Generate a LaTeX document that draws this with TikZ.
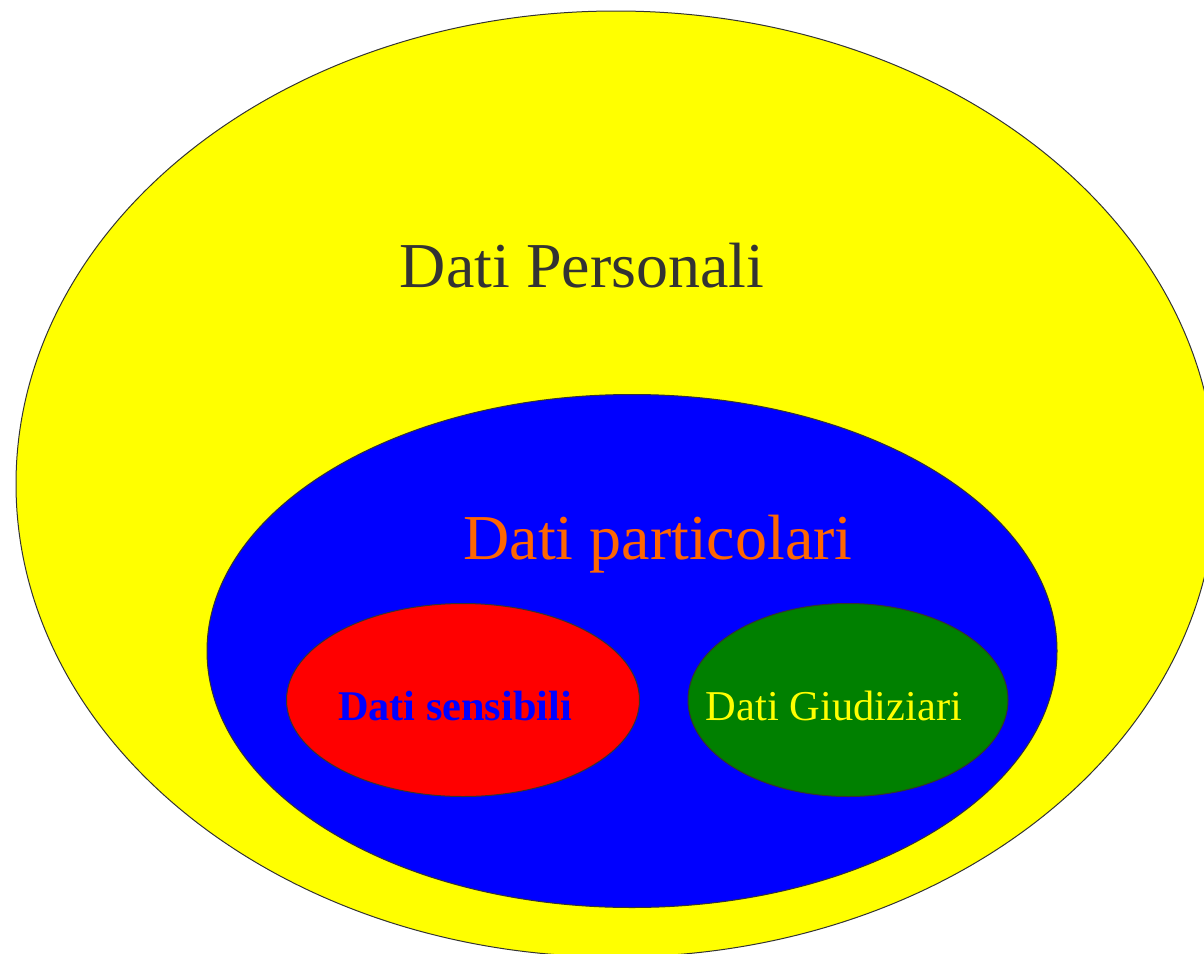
\documentclass[tikz,border=0pt]{standalone}
\usepackage{fontspec}
\setmainfont{Liberation Serif}
\usetikzlibrary{shapes.geometric}
\definecolor{bordo}{HTML}{333333}
\definecolor{giallo}{HTML}{FFFF00}
\definecolor{blu}{HTML}{0000FF}
\definecolor{rosso}{HTML}{FF0000}
\definecolor{arancio}{HTML}{FF6600}
\definecolor{verde}{HTML}{008000}

\begin{document}
\begin{tikzpicture}
  [x=1pt,y=-1pt,every node/.style={inner sep=0pt},
   insieme/.style={ellipse,draw=bordo,line width=1pt},
   nome/.style={anchor=base}]
  \useasboundingbox (0,0) rectangle (1204,953);
  \clip (0,0) rectangle (1204,953);

  % insiemi
  \node[insieme,fill=giallo,minimum width=1200pt,minimum height=946pt] (pers) at (616,484) {};
  \node[insieme,fill=blu,minimum width=850pt,minimum height=513pt] (part) at (632,651) {};
  \node[insieme,fill=rosso,minimum width=353pt,minimum height=193pt] (sens) at (463,700) {};
  \node[insieme,fill=verde,minimum width=320pt,minimum height=193pt] (giud) at (848,700) {};

  % etichette
  \node[nome,text=bordo,font=\fontsize{64}{70}\selectfont] (tpers) at (582,287) {Dati Personali};
  \node[nome,text=arancio,font=\fontsize{64}{70}\selectfont] (tpart) at (658,559) {Dati particolari};
  \node[nome,text=blu,font=\fontsize{42.3}{48}\selectfont\bfseries] (tsens) at (455,720) {Dati sensibili};
  \node[nome,text=giallo,font=\fontsize{42.5}{48}\selectfont] (tgiud) at (834,720) {Dati Giudiziari};
\end{tikzpicture}
\end{document}
